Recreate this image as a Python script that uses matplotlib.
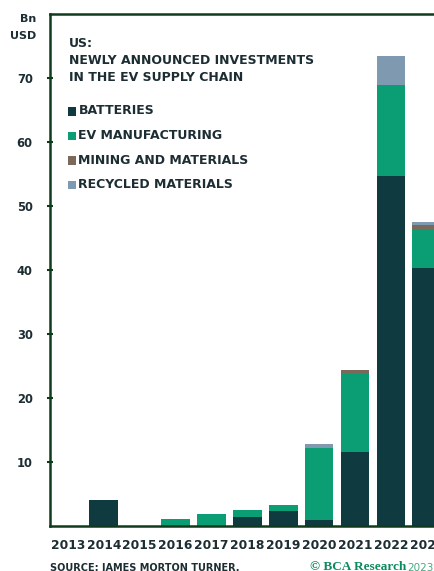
import matplotlib.pyplot as plt
import numpy as np
from matplotlib.patches import Rectangle

years = ['2013', '2014', '2015', '2016', '2017', '2018', '2019', '2020', '2021', '2022', '2023']
batteries = [0, 4.0, 0, 0, 0, 1.3, 2.25, 0.9, 11.5, 54.6, 40.3]
ev_manufacturing = [0, 0, 0, 1.0, 1.8, 1.1, 0.9, 11.2, 12.4, 14.3, 6.0]
mining = [0, 0, 0, 0, 0, 0, 0, 0, 0.4, 0, 0.7]
recycled = [0, 0, 0, 0, 0, 0, 0, 0.6, 0, 4.6, 0.5]

series = ['BATTERIES', 'EV MANUFACTURING', 'MINING AND MATERIALS', 'RECYCLED MATERIALS']
colors = ['#0f3a40', '#0b9d74', '#7b6a5b', '#7f9ab0']
text_col = '#1c2d33'
frame_col = '#0f3a1c'

plt.rcParams['font.family'] = ['DejaVu Sans']
plt.rcParams['font.weight'] = 'bold'

W, H = 435, 571
fig = plt.figure(figsize=(W / 100, H / 100), dpi=100)
# axes: left spine at x=50, top at y=14, baseline at y=525.5 (pixels from top)
ax = fig.add_axes([50 / W, 45.5 / H, (W - 50) / W, (525.5 - 14) / H])

x = np.arange(len(years))
bottom = np.zeros(len(years))
for vals, col, name in zip([batteries, ev_manufacturing, mining, recycled], colors, series):
    ax.bar(x, vals, width=0.8, bottom=bottom, color=col, label=name, linewidth=0)
    bottom += np.array(vals)

ax.set_xlim(-0.5, 10.23)
ax.set_ylim(0, 80)
ax.set_yticks(range(10, 80, 10))
ax.set_xticks(x)
ax.set_xticklabels(years)
ax.tick_params(axis='x', length=0, pad=10, labelsize=8.8, labelcolor=text_col)
ax.tick_params(axis='y', direction='inout', length=5, width=1.5, color=frame_col,
               labelsize=8.3, labelcolor=text_col, pad=10)
for lbl in ax.get_xticklabels() + ax.get_yticklabels():
    lbl.set_fontweight('bold')

for side in ['left', 'top', 'bottom']:
    ax.spines[side].set_color(frame_col)
    ax.spines[side].set_linewidth(1.8)
ax.spines['right'].set_visible(False)

fig.text(36 / W, 1 - 19 / H, 'Bn', ha='right', va='center', fontsize=8, color=text_col)
fig.text(36 / W, 1 - 36 / H, 'USD', ha='right', va='center', fontsize=8, color=text_col)

fig.text(69 / W, 1 - 37 / H, 'US:\nNEWLY ANNOUNCED INVESTMENTS\nIN THE EV SUPPLY CHAIN',
         ha='left', va='top', fontsize=9, color=text_col, linespacing=1.42)

# legend drawn by hand: small squares plus labels
for i, (name, col) in enumerate(zip(series, colors)):
    yc = 111 + i * 24.5
    fig.patches.append(Rectangle((68 / W, 1 - (yc + 4.5) / H), 8.5 / W, 8.5 / H,
                                 transform=fig.transFigure, color=col, linewidth=0))
    fig.text(78.5 / W, 1 - yc / H, name, ha='left', va='center', fontsize=9, color=text_col)

fig.text(50 / W, 1 - 563 / H, 'SOURCE: JAMES MORTON TURNER.', ha='left', va='top',
         fontsize=7, color=text_col)
fig.text(310 / W, 1 - 561 / H, '© BCA Research', ha='left', va='top', fontsize=9.5,
         family='Liberation Serif', fontweight='bold', color='#0b8a5c')
fig.text(407 / W, 1 - 563 / H, '2023', ha='left', va='top', fontsize=7.5,
         fontweight='normal', color='#4aa882')

fig.savefig('out.png', dpi=100)
